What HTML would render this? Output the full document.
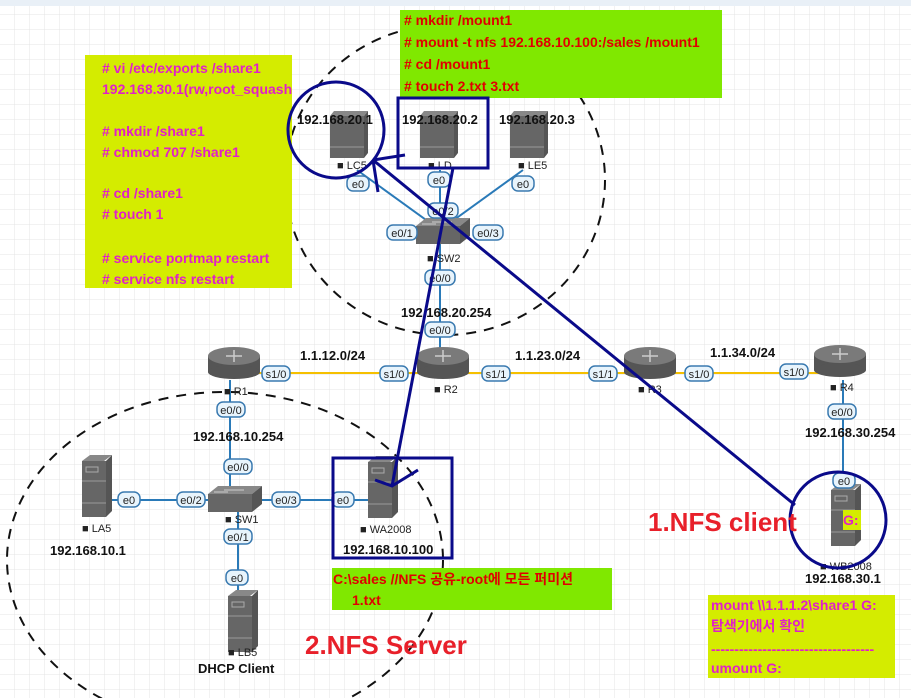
<!DOCTYPE html>
<html><head><meta charset="utf-8"><style>
body{margin:0;width:911px;height:698px;overflow:hidden;background:#fff}
svg{display:block}
text{font-family:"Liberation Sans","Noto Sans CJK KR",sans-serif}
.b{font-weight:bold;font-size:13px;fill:#111}
.p{font-weight:bold;font-size:14px;fill:#e020c8}
.r{font-weight:bold;font-size:14px;fill:#e00000}
</style></head><body>
<svg width="911" height="698" viewBox="0 0 911 698" xmlns="http://www.w3.org/2000/svg">
<defs>
<pattern id="g" width="15" height="15" patternUnits="userSpaceOnUse"><path d="M15 0V15H0" fill="none" stroke="#e4e4e4" stroke-width="1"/></pattern>
<g id="ws"><polygon points="-14,-24 20,-24 16,-19 -18,-19" fill="#888"/><rect x="-18" y="-19" width="34" height="42" fill="#666"/><polygon points="16,-19 20,-24 20,18 16,23" fill="#555"/><line x1="-18" y1="12" x2="16" y2="12" stroke="#999"/></g>
<g id="srv"><polygon points="-14,-28 8,-28 16,-34 -6,-34" fill="#888"/><rect x="-14" y="-28" width="24" height="56" fill="#666"/><polygon points="10,-28 16,-34 16,22 10,28" fill="#555"/><rect x="-10" y="-22" width="12" height="5" fill="none" stroke="#aaa"/><line x1="-14" y1="-8" x2="10" y2="-8" stroke="#999"/><line x1="-14" y1="14" x2="10" y2="14" stroke="#999"/></g>
<g id="rt"><rect x="-26" y="-6" width="52" height="16" fill="#555"/><ellipse cx="0" cy="10" rx="26" ry="7" fill="#555"/><ellipse cx="0" cy="-6" rx="26" ry="9" fill="#7a7a7a"/><path d="M-8 -6h16M0 -12v12" stroke="#ccc" stroke-width="1.5"/></g>
<g id="sw"><polygon points="-22,-6 -12,-14 32,-14 22,-6" fill="#888"/><rect x="-22" y="-6" width="44" height="18" fill="#666"/><polygon points="22,-6 32,-14 32,4 22,12" fill="#555"/><path d="M-6 -10h20M-2 -8h-14" stroke="#ccc"/></g>
</defs>
<rect width="911" height="698" fill="url(#g)"/>
<rect width="911" height="6" fill="#e9f0f7"/>
<!-- ellipses -->
<ellipse cx="445" cy="180" rx="160" ry="155" fill="none" stroke="#111" stroke-width="2" stroke-dasharray="10,8"/>
<ellipse cx="225" cy="560" rx="218" ry="168" fill="none" stroke="#111" stroke-width="2" stroke-dasharray="10,8"/>
<!-- boxes -->
<rect x="85" y="55" width="207" height="233" fill="#d4ec00"/>
<g class="p"><text x="102" y="73">#  vi /etc/exports /share1</text><text x="102" y="94">192.168.30.1(rw,root_squash</text><text x="102" y="136">#  mkdir /share1</text><text x="102" y="157">#  chmod 707 /share1</text><text x="102" y="198">#  cd /share1</text><text x="102" y="219">#  touch 1</text><text x="102" y="263">#  service portmap restart</text><text x="102" y="284">#  service nfs restart</text></g>
<svg x="400" y="10" width="322" height="88"><rect width="322" height="88" fill="#80e800"/>
<g class="r"><text x="4" y="15">#  mkdir /mount1</text><text x="4" y="37">#  mount -t nfs 192.168.10.100:/sales /mount1</text><text x="4" y="59">#  cd /mount1</text><text x="4" y="81">#  touch 2.txt 3.txt</text></g></svg>
<rect x="332" y="568" width="280" height="42" fill="#80e800"/>
<g class="r"><text x="333" y="584">C:\sales  //NFS 공유-root에 모든 퍼미션</text><text x="352" y="605">1.txt</text></g>
<rect x="708" y="595" width="187" height="83" fill="#d4ec00"/>
<g class="p"><text x="711" y="610">mount \\1.1.1.2\share1 G:</text><text x="711" y="631">탐색기에서 확인</text><text x="711" y="654">-----------------------------------</text><text x="711" y="673">umount G:</text></g>
<!-- links -->
<g stroke="#2a7ab8" stroke-width="2" fill="none">
<path d="M357 170L440 230L523 170M440 170V230M440 240V365M230 380V500M230 500L100 500M230 500H380M238 500V625M843 380V515"/>
</g>
<path d="M230 373H840" stroke="#f5c000" stroke-width="2"/>
<!-- devices -->
<use href="#ws" x="348" y="135"/><use href="#ws" x="438" y="135"/><use href="#ws" x="528" y="135"/>
<use href="#sw" x="438" y="232"/><use href="#sw" x="230" y="500"/>
<use href="#rt" x="234" y="362"/><use href="#rt" x="443" y="362"/><use href="#rt" x="650" y="362"/><use href="#rt" x="840" y="360"/>
<use href="#srv" x="96" y="489"/><use href="#srv" x="382" y="490"/><use href="#srv" x="242" y="624"/><use href="#srv" x="845" y="518"/>
<!-- interface pills -->
<g font-size="11" text-anchor="middle">
<g fill="#e8f4fc" stroke="#3a7ab0" stroke-width="1.5">
<rect x="347" y="176" width="22" height="15" rx="6"/><rect x="428" y="172" width="22" height="15" rx="6"/><rect x="512" y="176" width="22" height="15" rx="6"/>
<rect x="428" y="203" width="30" height="15" rx="6"/><rect x="387" y="225" width="30" height="15" rx="6"/><rect x="473" y="225" width="30" height="15" rx="6"/>
<rect x="425" y="270" width="30" height="15" rx="6"/><rect x="425" y="322" width="30" height="15" rx="6"/>
<rect x="262" y="366" width="28" height="15" rx="6"/><rect x="380" y="366" width="28" height="15" rx="6"/><rect x="482" y="366" width="28" height="15" rx="6"/><rect x="589" y="366" width="28" height="15" rx="6"/><rect x="685" y="366" width="28" height="15" rx="6"/><rect x="780" y="364" width="28" height="15" rx="6"/>
<rect x="217" y="402" width="28" height="15" rx="6"/><rect x="224" y="459" width="28" height="15" rx="6"/><rect x="177" y="492" width="28" height="15" rx="6"/><rect x="272" y="492" width="28" height="15" rx="6"/><rect x="224" y="529" width="28" height="15" rx="6"/><rect x="226" y="570" width="22" height="15" rx="6"/>
<rect x="118" y="492" width="22" height="15" rx="6"/><rect x="332" y="492" width="22" height="15" rx="6"/>
<rect x="828" y="404" width="28" height="15" rx="6"/><rect x="833" y="473" width="22" height="15" rx="6"/>
</g>
<g fill="#222">
<text x="358" y="188">e0</text><text x="439" y="184">e0</text><text x="523" y="188">e0</text>
<text x="443" y="215">e0/2</text><text x="402" y="237">e0/1</text><text x="488" y="237">e0/3</text>
<text x="440" y="282">e0/0</text><text x="440" y="334">e0/0</text>
<text x="276" y="378">s1/0</text><text x="394" y="378">s1/0</text><text x="496" y="378">s1/1</text><text x="603" y="378">s1/1</text><text x="699" y="378">s1/0</text><text x="794" y="376">s1/0</text>
<text x="231" y="414">e0/0</text><text x="238" y="471">e0/0</text><text x="191" y="504">e0/2</text><text x="286" y="504">e0/3</text><text x="238" y="541">e0/1</text><text x="237" y="582">e0</text>
<text x="129" y="504">e0</text><text x="343" y="504">e0</text>
<text x="842" y="416">e0/0</text><text x="844" y="485">e0</text>
</g></g>
<!-- device names -->
<g font-size="11" fill="#222">
<text x="337" y="169">■ LC5</text><text x="428" y="169">■ LD</text><text x="518" y="169">■ LE5</text><text x="427" y="262">■ SW2</text>
<text x="224" y="395">■ R1</text><text x="434" y="393">■ R2</text><text x="638" y="393">■ R3</text><text x="830" y="391">■ R4</text>
<text x="82" y="532">■ LA5</text><text x="225" y="523">■ SW1</text><text x="360" y="533">■ WA2008</text><text x="228" y="656">■ LB5</text><text x="820" y="570">■ WB2008</text>
</g>
<g class="b">
<text x="297" y="124">192.168.20.1</text><text x="402" y="124">192.168.20.2</text><text x="499" y="124">192.168.20.3</text>
<text x="401" y="317">192.168.20.254</text>
<text x="300" y="360">1.1.12.0/24</text><text x="515" y="360">1.1.23.0/24</text><text x="710" y="357">1.1.34.0/24</text>
<text x="193" y="441">192.168.10.254</text><text x="805" y="437">192.168.30.254</text>
<text x="50" y="555">192.168.10.1</text><text x="343" y="554">192.168.10.100</text><text x="198" y="673">DHCP Client</text><text x="805" y="583">192.168.30.1</text>
</g>
<rect x="843" y="510" width="18" height="20" fill="#d4ec00"/><text x="843" y="525" class="p">G:</text>
<!-- highlights -->
<g stroke="#0a0a8a" stroke-width="3" fill="none">
<circle cx="336" cy="130" r="48"/>
<rect x="398" y="98" width="90" height="70"/>
<rect x="333" y="458" width="119" height="100"/>
<circle cx="838" cy="520" r="48"/>
<path d="M453 168L392 486M375 480L392 486L418 470"/>
<path d="M795 505L373 160M373 160L405 155M373 160L378 192"/>
</g>
<text x="648" y="531" font-size="26" font-weight="bold" fill="#e8202a">1.NFS client</text>
<text x="305" y="654" font-size="26" font-weight="bold" fill="#e8202a">2.NFS Server</text>
</svg>
</body></html>
